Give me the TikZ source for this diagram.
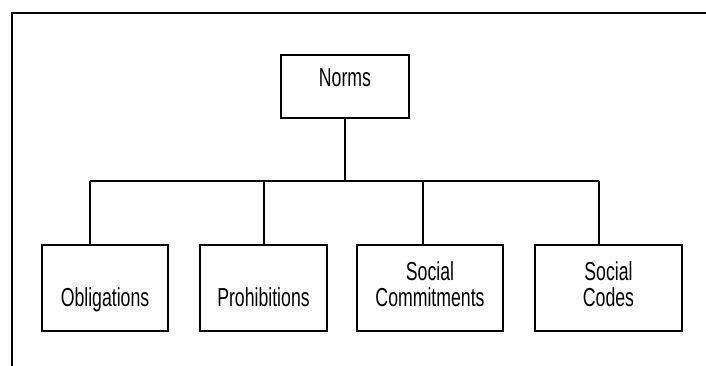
\documentclass[tikz,border=0pt]{standalone}
\usepackage{fontspec}
\setmainfont[FakeStretch=0.68]{Liberation Sans}
\newcommand{\boxlbl}[2]{\raisebox{#1}[0pt][0pt]{#2}}
\newcommand{\twolines}[2]{\begin{tabular}[t]{@{}c@{}}#1\\#2\end{tabular}}
\begin{document}
\begin{tikzpicture}[x=1pt,y=-1pt,
  every node/.style={font=\fontsize{26}{25.7}\selectfont},
  conn/.style={line width=1.1pt, black},
  frameline/.style={line width=1.1pt, black},
  parentbox/.style={draw, line width=1.1pt, inner sep=0pt, minimum width=128pt, minimum height=63pt},
  childbox/.style={draw, line width=1.1pt, inner sep=0pt, minimum height=86pt}]
\useasboundingbox (0,0) rectangle (706,366);
% frame
\draw[frameline] (12,366) -- (12,13) -- (706,13);
% parent
\node[parentbox] (norms) at (345,86.5) {\boxlbl{-0.2pt}{Norms}};
% children
\node[childbox, minimum width=126pt] (obl) at (105,288) {\boxlbl{-18.7pt}{Obligations}};
\node[childbox, minimum width=127pt] (pro) at (263.5,288) {\boxlbl{-18.7pt}{Prohibitions}};
\node[childbox, minimum width=146pt] (com) at (430,288) {\boxlbl{8pt}{\twolines{Social}{Commitments}}};
\node[childbox, minimum width=147pt] (cod) at (608.5,288) {\boxlbl{8pt}{\twolines{Social}{Codes}}};
% bus junctions
\coordinate (j1) at (90,181);
\coordinate (j2) at (264,181);
\coordinate (j3) at (423,181);
\coordinate (j4) at (599,181);
\draw[conn] (norms.south) -- (norms.south |- j1);
\draw[conn] (j1) -- (j4);
\draw[conn] (j1) -- (j1 |- obl.north);
\draw[conn] (j2) -- (j2 |- pro.north);
\draw[conn] (j3) -- (j3 |- com.north);
\draw[conn] (j4) -- (j4 |- cod.north);
\end{tikzpicture}
\end{document}
